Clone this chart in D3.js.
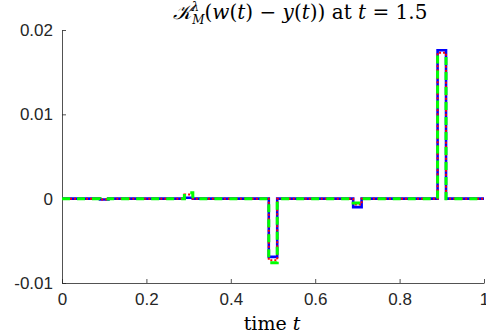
<!DOCTYPE html>
<html>
<head>
<meta charset="utf-8">
<script src="https://cdn.jsdelivr.net/npm/d3@7"></script>
<style>
  body { margin: 0; background: #fff; }
  svg { display: block; }
  .tick text { font-family: "Liberation Sans", Arial, sans-serif; font-size: 17px; fill: #262626; }
  .domain, .tick line { stroke: #262626; stroke-width: 0.8; }
</style>
</head>
<body>
<svg id="graph" width="486" height="335"></svg>
<script>
// breakpoints in time (step after)
const times = [0, 0.09, 0.11, 0.29, 0.31, 0.49, 0.51, 0.69, 0.71, 0.89, 0.91, 1];
const blueVals  = [0, -0.0001, 0, 0.0001, 0, -0.0069, 0, -0.001, 0, 0.0176, 0, 0];
const redVals   = [0, -0.0001, 0, 0.0005, 0, -0.0073, 0, -0.0007, 0, 0.0173, 0, 0];
const greenVals = [0, -0.00005, 0, 0.0007, 0, -0.0076, 0, -0.0005, 0, 0.0168, 0, 0];
const xTicks = [0, 0.2, 0.4, 0.6, 0.8, 1];
const yTicks = [-0.01, 0, 0.01, 0.02];

let svg = d3.select("#graph");

let x0 = 62, x1 = 484, y0 = 283, y1 = 30;

let scX = d3.scaleLinear().domain([0, 1]).range([x0, x1]);
let scY = d3.scaleLinear().domain([-0.01, 0.02]).range([y0, y1]);

svg.append("g")
    .attr("transform", "translate(0," + y0 + ")")
    .call(d3.axisBottom(scX).tickValues(xTicks).tickSizeInner(-4).tickSizeOuter(0).tickPadding(10)
        .tickFormat((d) => (d === 0 || d === 1 ? String(d) : d3.format(".1f")(d))))
    .selectAll("text").attr("dy", "0.71em");

svg.append("g")
    .attr("transform", "translate(" + x0 + ",0)")
    .call(d3.axisLeft(scY).tickValues(yTicks).tickSizeInner(-4).tickSizeOuter(0).tickPadding(9)
        .tickFormat((d) => (d === 0 ? "0" : d3.format(".2f")(d).replace("−", "-"))));

let lnMkr = d3.line()
    .curve(d3.curveStepAfter)
    .x((d) => scX(d[0]))
    .y((d) => scY(d[1]));

let series = [
    { vals: blueVals, color: "#0000ff", width: 2.6, dash: null },
    { vals: redVals, color: "#ff0000", width: 2, dash: "2,2" },
    { vals: greenVals, color: "#00ff00", width: 3, dash: "8,7" }
];

series.forEach((s) => {
    svg.append("path")
        .attr("fill", "none")
        .attr("stroke", s.color)
        .attr("stroke-width", s.width)
        .attr("stroke-dasharray", s.dash)
        .attr("d", lnMkr(times.map((t, i) => [t, s.vals[i]])));
});

// title
let serif = "'DejaVu Serif', 'Liberation Serif', serif";
let title = svg.append("text")
    .attr("x", 300)
    .attr("y", 19)
    .attr("text-anchor", "middle")
    .attr("font-family", serif)
    .attr("font-size", 20)
    .attr("fill", "#000");
title.append("tspan").attr("font-style", "italic").text("\u{1D4A6}");
title.append("tspan").attr("font-style", "italic").attr("font-size", 12).attr("dy", -8).text("λ");
title.append("tspan").attr("font-style", "italic").attr("font-size", 12).attr("dx", -7).attr("dy", 13).text("M");
title.append("tspan").attr("dy", -5).text("(");
title.append("tspan").attr("font-style", "italic").text("w");
title.append("tspan").text("(");
title.append("tspan").attr("font-style", "italic").text("t");
title.append("tspan").text(") − ");
title.append("tspan").attr("font-style", "italic").text("y");
title.append("tspan").text("(");
title.append("tspan").attr("font-style", "italic").text("t");
title.append("tspan").text(")) at ");
title.append("tspan").attr("font-style", "italic").text("t");
title.append("tspan").text(" = 1.5");

// x label
let xl = svg.append("text")
    .attr("x", 272)
    .attr("y", 330)
    .attr("text-anchor", "middle")
    .attr("font-family", serif)
    .attr("font-size", 19)
    .attr("fill", "#000");
xl.append("tspan").text("time ");
xl.append("tspan").attr("font-style", "italic").text("t");
</script>
</body>
</html>
